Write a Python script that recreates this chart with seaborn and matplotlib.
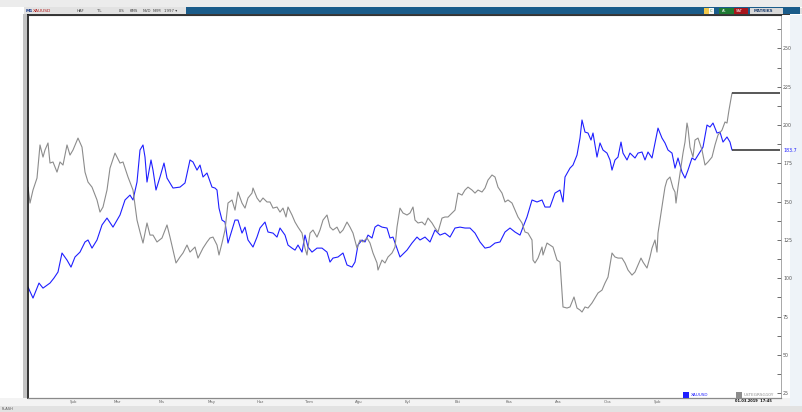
import numpy as np
import pandas as pd
import seaborn as sns
import matplotlib.pyplot as plt
from matplotlib.patches import Rectangle
from matplotlib.ticker import MultipleLocator
from matplotlib.transforms import ScaledTranslation

sns.set_style("white")
plt.rcParams['font.family'] = ['DejaVu Sans']

# XAUUSD (blue), day index vs value
xau_day = [0, 5, 11, 15, 22, 26, 30, 34, 39, 43,
           47, 52, 57, 60, 64, 69, 74, 79, 85, 92,
           97, 102, 105, 109, 112, 115, 117, 119, 123, 125,
           128, 132, 136, 139, 145, 152, 157, 162, 165, 169,
           172, 175, 179, 184, 187, 189, 191, 194, 197, 200,
           204, 207, 210, 214, 217, 220, 225, 229, 232, 237,
           240, 245, 249, 252, 257, 260, 264, 267, 270, 274,
           277, 280, 284, 289, 294, 299, 302, 305, 310, 315,
           319, 324, 327, 330, 334, 337, 340, 344, 347, 350,
           354, 359, 362, 365, 372, 379, 384, 389, 392, 397,
           402, 407, 412, 417, 422, 427, 432, 437, 442, 447,
           452, 457, 462, 467, 472, 477, 482, 487, 492, 495,
           499, 504, 509, 514, 517, 522, 527, 532, 535, 537,
           542, 545, 549, 552, 554, 557, 560, 563, 565, 569,
           572, 575, 579, 582, 584, 587, 590, 593, 595, 599,
           602, 607, 610, 614, 617, 620, 624, 627, 630, 634,
           637, 640, 644, 647, 650, 654, 657, 660, 664, 667,
           670, 675, 679, 682, 685, 689, 692, 695, 699, 702,
           704]
xau_val = [94.3, 87.1, 96.9, 93.6, 96.9, 100.2, 104.1, 116.5, 111.9, 107.3,
           113.9, 117.1, 123.7, 125.0, 119.7, 125.0, 134.8, 139.3, 133.4, 141.3,
           151.1, 154.3, 151.1, 162.8, 183.7, 187.0, 179.1, 162.8, 177.2, 170.6,
           157.6, 166.1, 175.2, 165.4, 158.9, 159.5, 162.2, 177.2, 175.9, 170.6,
           173.9, 166.1, 168.7, 159.5, 158.9, 157.6, 145.8, 138.0, 136.7, 123.0,
           131.5, 138.0, 138.0, 129.5, 133.4, 125.0, 120.4, 126.9, 132.8, 136.7,
           130.2, 129.5, 126.9, 132.8, 128.2, 121.7, 119.7, 118.4, 121.7, 117.1,
           128.2, 120.4, 117.1, 119.7, 119.7, 117.1, 110.6, 113.2, 113.9, 116.5,
           108.7, 107.3, 110.6, 121.7, 125.0, 123.7, 128.2, 126.3, 133.4, 134.8,
           133.4, 132.8, 126.3, 126.9, 113.9, 118.4, 123.0, 126.9, 125.0, 126.9,
           123.7, 131.5, 128.2, 129.5, 126.9, 132.8, 133.4, 132.8, 132.8, 129.5,
           123.7, 119.7, 120.4, 123.0, 123.7, 130.2, 132.8, 130.2, 128.2, 133.4,
           140.0, 151.1, 149.8, 151.1, 146.5, 146.5, 155.6, 157.6, 149.8, 166.1,
           171.9, 173.9, 180.4, 191.5, 203.3, 195.4, 194.8, 190.2, 194.8, 179.1,
           188.3, 183.7, 181.7, 177.2, 170.6, 177.2, 179.1, 188.9, 181.7, 177.2,
           181.7, 178.5, 181.7, 182.4, 177.2, 182.4, 178.5, 188.3, 198.0, 191.5,
           188.3, 183.7, 181.7, 171.9, 178.5, 169.3, 165.4, 170.6, 178.5, 177.2,
           180.4, 185.6, 200.0, 198.7, 201.3, 194.8, 195.4, 188.9, 192.2, 188.9,
           183.7]

# second instrument (gray)
ust_day = [0, 2, 5, 9, 12, 15, 17, 20, 22, 25,
           29, 32, 35, 39, 42, 45, 50, 54, 57, 60,
           64, 69, 72, 75, 79, 82, 87, 92, 95, 100,
           105, 109, 112, 115, 119, 122, 125, 129, 134, 139,
           142, 145, 148, 152, 155, 159, 162, 167, 170, 175,
           179, 182, 185, 189, 191, 194, 197, 200, 204, 207,
           210, 214, 217, 220, 224, 225, 229, 232, 235, 239,
           242, 245, 249, 252, 255, 258, 260, 264, 267, 270,
           274, 277, 279, 282, 285, 289, 292, 295, 299, 302,
           305, 309, 312, 315, 319, 322, 325, 329, 332, 335,
           339, 342, 345, 349, 350, 354, 357, 360, 364, 367,
           369, 372, 375, 379, 382, 385, 387, 390, 394, 397,
           400, 404, 407, 410, 414, 417, 420, 424, 427, 430,
           434, 437, 440, 444, 447, 450, 454, 457, 460, 464,
           467, 470, 474, 477, 480, 484, 487, 490, 494, 497,
           500, 504, 505, 507, 510, 514, 515, 519, 522, 525,
           529, 532, 534, 535, 539, 542, 546, 549, 552, 554,
           557, 560, 564, 567, 570, 574, 577, 580, 584, 587,
           590, 594, 597, 600, 604, 607, 610, 613, 615, 619,
           622, 624, 627, 629, 630, 633, 635, 637, 639, 642,
           645, 647, 648, 650, 653, 655, 657, 659, 660, 662,
           665, 667, 670, 674, 677, 680, 684, 687, 690, 694,
           697, 699, 701, 704]
ust_val = [159.5, 149.1, 157.6, 165.4, 187.0, 179.1, 183.7, 188.3, 175.2, 175.9,
           169.3, 175.9, 173.9, 187.0, 180.4, 183.7, 191.5, 185.6, 169.3, 162.8,
           159.5, 151.1, 143.2, 146.5, 157.6, 171.9, 181.7, 175.2, 175.9, 166.1,
           157.6, 138.0, 130.2, 123.0, 136.1, 128.2, 128.2, 123.7, 126.3, 134.8,
           126.9, 118.4, 110.0, 113.9, 116.5, 121.7, 117.1, 120.4, 113.2, 119.7,
           123.7, 126.3, 126.9, 121.7, 115.2, 123.0, 131.5, 149.1, 151.1, 144.5,
           156.3, 149.1, 145.8, 152.4, 155.6, 158.9, 152.4, 149.8, 152.4, 149.8,
           149.8, 145.8, 146.5, 143.2, 145.8, 140.0, 146.5, 141.3, 136.7, 133.4,
           129.5, 119.7, 115.2, 129.5, 131.5, 126.9, 131.5, 138.0, 141.3, 133.4,
           131.5, 133.4, 129.5, 131.5, 136.7, 133.4, 129.5, 119.7, 125.0, 123.7,
           126.3, 123.0, 116.5, 110.0, 105.4, 111.9, 110.0, 113.9, 116.5, 120.4,
           133.4, 145.8, 142.6, 141.3, 142.6, 146.5, 138.0, 136.1, 136.7, 134.8,
           139.3, 136.1, 132.8, 130.2, 139.3, 140.0, 140.0, 142.6, 144.5, 155.6,
           154.3, 157.6, 159.5, 157.6, 155.6, 157.6, 156.3, 158.9, 164.1, 167.4,
           166.1, 159.5, 155.6, 149.8, 151.1, 149.1, 144.5, 140.0, 136.1, 130.2,
           129.5, 125.0, 111.9, 110.0, 113.2, 120.4, 115.2, 123.0, 121.7, 120.4,
           111.9, 110.6, 90.4, 81.3, 80.6, 81.3, 87.8, 80.6, 79.3, 78.0,
           81.3, 80.6, 83.9, 87.1, 90.4, 92.3, 96.9, 100.8, 116.5, 113.9,
           113.2, 113.2, 110.0, 105.4, 102.1, 104.1, 108.7, 113.2, 110.6, 106.7,
           113.9, 119.7, 125.0, 117.1, 129.5, 142.6, 151.1, 159.5, 164.1, 166.1,
           158.9, 156.3, 149.1, 159.5, 172.6, 181.7, 188.9, 201.3, 198.0, 185.6,
           179.1, 190.2, 191.5, 183.7, 173.9, 175.9, 179.1, 187.0, 193.5, 196.7,
           202.0, 201.3, 209.8, 220.9]

y_ticks = [25, 50, 75, 100, 125, 150, 175, 200, 225, 250]
x_tick_days = [40, 84, 129, 178, 227, 275, 325, 375, 425, 476, 525, 574, 624]
x_tick_labels = ['Şub', 'Mar', 'Nis', 'May', 'Haz', 'Tem', 'Ağu',
                 'Eyl', 'Eki', 'Kas', 'Ara', 'Oca', 'Şub']
series_names = ['XAUUSD', 'USTEGRSG10Y']

df = pd.concat([
    pd.DataFrame({'gun': xau_day, 'deger': xau_val, 'seri': series_names[0]}),
    pd.DataFrame({'gun': ust_day, 'deger': ust_val, 'seri': series_names[1]}),
])

W, H = 803, 412
fig = plt.figure(figsize=(W / 100, H / 100), dpi=100)
fig.patch.set_facecolor('white')


def box(x0, y0, x1, y1, fc, ec='none', lw=0, z=0):
    fig.add_artist(Rectangle((x0 / W, 1 - y1 / H), (x1 - x0) / W, (y1 - y0) / H,
                             transform=fig.transFigure, fc=fc, ec=ec, lw=lw, zorder=z))


def label(x, y, s, color='#333333', size=3.2, **kw):
    fig.text(x / W, 1 - y / H, s, color=color, fontsize=size, va='center', **kw)


# window chrome
box(0, 0, W, 7, '#ececec')
box(24, 7, 186, 14, '#e2e2e2')
box(186, 7, 800, 14, '#1b5c8a')
box(24, 14, 790, 15, '#3a3a3a')
box(23, 14, 27.5, 406, '#c4c4c4')
box(790, 15, W, H, '#eef3f8')
box(0, 398, 790, 406, '#f3f3f3')
box(0, 406, W, H, '#e2e2e2')
box(800, 8, W, 14, '#e0e0e0')

label(26, 10.5, 'M1', color='#1b3b8a', size=3.2, weight='bold')
label(33, 10.5, 'XAUUSD', color='#b01818', size=3.2)
for xx, txt in [(77, 'HAF'), (97, 'TL'), (119, 'LIS'), (130, 'KMS'), (143, 'NVD'), (153, 'NYM'), (164, '1997 ▾')]:
    label(xx, 10.5, txt, color='#444444', size=2.8)
box(704, 8, 709, 13.5, '#f2c84b')
box(709.5, 8, 714, 13.5, '#f5f5f5')
label(710, 10.7, 'C', color='#2a7a2a', size=2.6)
box(719, 8, 734, 13.5, '#1f7a33')
label(722, 10.7, 'AL', color='white', size=2.6)
box(734, 8, 748, 13.5, '#a8161c')
label(736, 10.7, 'SAT', color='white', size=2.6)
box(750, 8, 783, 13.5, '#d9d9d9')
label(754, 10.7, 'MATRIKS', color='#1b3b6a', size=2.8, weight='bold')
label(2, 409.5, 'FLASH', color='#555555', size=2.6)
label(735, 401.5, '01.03.2019  17:45', color='#111111', size=2.6, weight='bold')

ax = fig.add_axes([28 / W, 1 - 398 / H, (781 - 28) / W, (398 - 15) / H])
ax.set_facecolor('white')

sns.lineplot(data=df, x='gun', y='deger', hue='seri', estimator=None, sort=False,
             palette={series_names[0]: '#1f1fff', series_names[1]: '#8c8c8c'},
             lw=0.8, legend=False, ax=ax)

# last price lines
ax.hlines(xau_val[-1], xau_day[-1], 752, color='#4a4a4a', lw=1.3)
ax.hlines(ust_val[-1], ust_day[-1], 752, color='#4a4a4a', lw=1.3)
ax.text(1.003, xau_val[-1], f'{xau_val[-1]:.1f}', transform=ax.get_yaxis_transform(),
        color='#1f1fff', fontsize=3.4, va='center', clip_on=False)

ax.set_xlim(0, 753)
ax.set_ylim(21.9, 271.8)
ax.set_xlabel('')
ax.set_ylabel('')

ax.yaxis.tick_right()
ax.set_yticks(y_ticks)
ax.yaxis.set_minor_locator(MultipleLocator(12.5))
ax.tick_params(axis='y', which='both', direction='in', length=3, width=0.6,
               color='#555555', labelsize=3.4, labelcolor='#555555', pad=1.5,
               right=True, left=False)

ax.set_xticks(x_tick_days)
ax.set_xticklabels(x_tick_labels, ha='left')
ax.tick_params(axis='x', direction='out', length=6, width=0.6, color='#555555',
               labelsize=2.8, labelcolor='#666666', pad=-4.6)
for t in ax.get_xticklabels():
    t.set_transform(t.get_transform() + ScaledTranslation(1.5 / 72, 0, fig.dpi_scale_trans))

ax.spines['left'].set_color('#111111')
ax.spines['left'].set_linewidth(1.2)
ax.spines['top'].set_color('#333333')
ax.spines['top'].set_linewidth(0.8)
ax.spines['right'].set_color('#9a9a9a')
ax.spines['right'].set_linewidth(0.6)
ax.spines['bottom'].set_color('#8a8a8a')
ax.spines['bottom'].set_linewidth(0.9)
ax.grid(False)

# legend squares at the bottom right
box(683, 391.5, 689, 397.5, '#1f1fff', z=5)
label(691, 394.5, series_names[0], color='#1f1fff', size=3.0, zorder=6)
box(736, 391.5, 742, 397.5, '#8c8c8c', z=5)
label(744, 394.5, series_names[1], color='#8c8c8c', size=3.0, zorder=6)

fig.savefig('out.png', dpi=100)
